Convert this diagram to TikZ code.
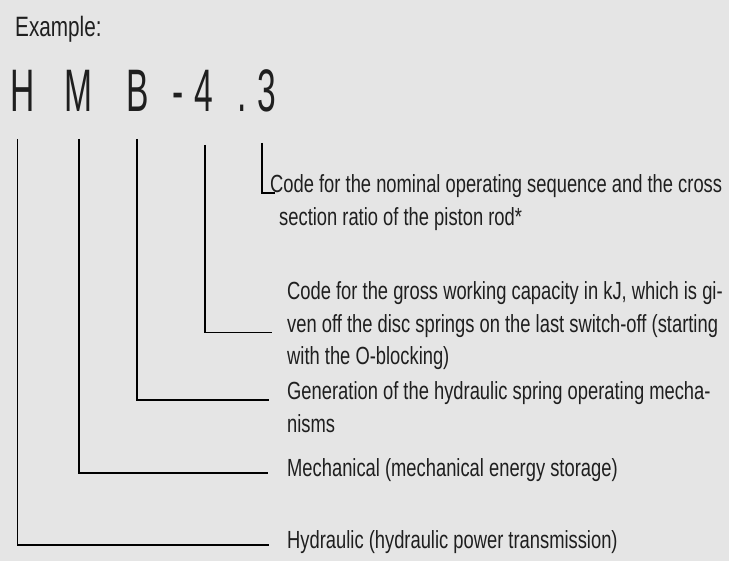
\documentclass[tikz,border=0pt]{standalone}
\usepackage{fontspec}
\setmainfont[FakeStretch=0.74]{Liberation Sans}
\newfontfamily\codefont[FakeStretch=0.56]{Liberation Sans}
\begin{document}
\begin{tikzpicture}[x=1pt, y=-1pt,
    desc/.style={anchor=base west, align=left, inner sep=0pt, text=black!88,
        font=\fontsize{24.8}{32.5}\selectfont},
    code/.style={anchor=base, inner sep=0pt, text=black!88,
        font=\codefont\fontsize{60}{64}\selectfont},
    lead/.style={line width=1.3pt}]

    \fill[black!10] (0,0) rectangle (729,561);
    \useasboundingbox (0,0) rectangle (729,561);

    \def\yc{112};
    \def\yf{139};
    \def\xt{287};
    \def\ls{32.5pt};

    \node[anchor=base west, inner sep=0pt, text=black!88, font=\fontsize{28}{30}\selectfont]
        (ex) at (15,37) {Example:};

% type code
    \node[code] (cH) at (22.5,\yc) {H};
    \node[code] (cM) at (78,\yc) {M};
    \node[code] (cB) at (138,\yc) {B};
    \node[code] (cdash) at (178,\yc) {-};
    \node[code] (c4) at (204,\yc) {4};
    \node[code] (cdot) at (242,\yc) {.};
    \node[code] (c3) at (267,\yc) {3};

% explanations (base = last line)
    \node[desc] (t3) at (279,225.5) {\hspace*{-9pt}Code for the nominal operating sequence and the cross\\
        section ratio of the piston rod*};
    \node[desc] (t4) at (\xt,365) {Code for the gross working capacity in kJ, which is gi-\\
        ven off the disc springs on the last switch-off (starting\\
        with the O-blocking)};
    \node[desc] (tB) at (\xt,432.5) {Generation of the hydraulic spring operating mecha-\\
        nisms};
    \node[desc] (tM) at (\xt,477) {Mechanical (mechanical energy storage)};
    \node[desc] (tH) at (\xt,548) {Hydraulic (hydraulic power transmission)};

% leader lines
    \coordinate (f3) at (262,143);
    \coordinate (f4) at (205,145);
    \coordinate (fB) at (137,\yf);
    \coordinate (fM) at (79,\yf);
    \coordinate (fH) at (17.7,\yf);

    \coordinate (e3) at ([xshift=-4pt, yshift=\ls]t3.base west);
    \coordinate (e4) at ([xshift=-15pt, yshift=\ls]t4.base west);
    \coordinate (eB) at ([xshift=-18pt, yshift=\ls]tB.base west);
    \coordinate (eM) at ([xshift=-19pt, yshift=4pt]tM.base west);
    \coordinate (eH) at ([xshift=-18pt, yshift=3pt]tH.base west);

    \draw[lead] (f3) |- (e3);
    \draw[lead] (f4) |- (e4);
    \draw[lead] (fB) |- (eB);
    \draw[lead] (fM) |- (eM);
    \draw[lead] (fH) |- (eH);

\end{tikzpicture}
\end{document}
